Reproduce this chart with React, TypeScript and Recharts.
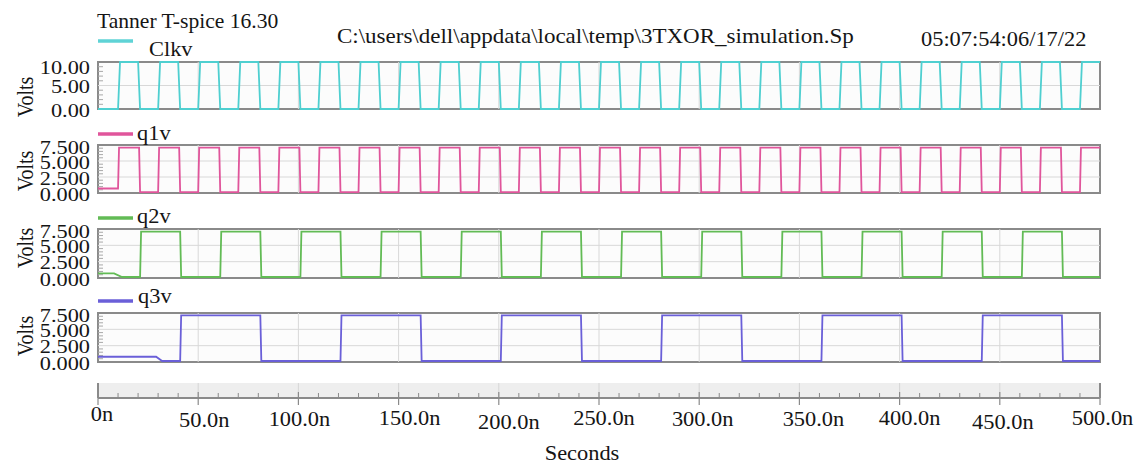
import { LineChart, Line, XAxis, YAxis, ReferenceArea, ReferenceLine } from "recharts"

// edge times in ns
const clkRise = [10, 30, 50, 70, 90, 110, 130, 150, 170, 190, 210, 230, 250, 270, 290, 310, 330, 350, 370, 390, 410, 430, 450, 470, 490]
const clkFall = [20, 40, 60, 80, 100, 120, 140, 160, 180, 200, 220, 240, 260, 280, 300, 320, 340, 360, 380, 400, 420, 440, 460, 480]
const q1Rise = [10, 30, 50, 70, 90, 110, 130, 150, 170, 190, 210, 230, 250, 270, 290, 310, 330, 350, 370, 390, 410, 430, 450, 470, 490]
const q1Fall = [20.5, 40.5, 60.5, 80.5, 100.5, 120.5, 140.5, 160.5, 180.5, 200.5, 220.5, 240.5, 260.5, 280.5, 300.5, 320.5, 340.5, 360.5, 380.5, 400.5, 420.5, 440.5, 460.5, 480.5]
const q2Rise = [21, 61, 101, 141, 181, 221, 261, 301, 341, 381, 421, 461]
const q2Fall = [41, 81, 121, 161, 201, 241, 281, 321, 361, 401, 441, 481]
const q3Rise = [41, 121, 201, 281, 361, 441]
const q3Fall = [81, 161, 241, 321, 401, 481]

// [time, volts] before the first edge
const clkStart = [[0, 0]]
const q1Start = [[0, 0.7]]
const q2Start = [[0, 0.7], [8, 0.7], [12, 0.15]]
const q3Start = [[0, 0.8], [29, 0.8], [32, 0.15]]

const clkTicks = [0, 5, 10]
const clkTickLabels = ["0.00", "5.00", "10.00"]
const clkMinor = [1, 2, 3, 4, 6, 7, 8, 9]
const qTicks = [0, 2.5, 5, 7.5]
const qTickLabels = ["0.000", "2.500", "5.000", "7.500"]
const qMinor = [0.5, 1, 1.5, 2, 3, 3.5, 4, 4.5, 5.5, 6, 6.5, 7]

const xMajor = [0, 50, 100, 150, 200, 250, 300, 350, 400, 450, 500]
const xMajorLabels = ["0n", "50.0n", "100.0n", "150.0n", "200.0n", "250.0n", "300.0n", "350.0n", "400.0n", "450.0n", "500.0n"]
const xMinor = [10, 20, 30, 40, 60, 70, 80, 90, 110, 120, 130, 140, 160, 170, 180, 190, 210, 220, 230, 240, 260, 270, 280, 290, 310, 320, 330, 340, 360, 370, 380, 390, 410, 420, 430, 440, 460, 470, 480, 490]

const FONT = "'Liberation Serif', 'Times New Roman', serif"
const SX = 1.12
const BORDER = "#8a8a8a"
const GRID = "#d8d8d8"

// label nudges [dx, y-centre offset from axis line]
const xLabelNudge = {
  0: [4, 16], 50: [6, 22], 100: [1, 21], 150: [11, 20], 200: [10, 24], 250: [5, 20],
  300: [3.5, 21], 350: [14, 21], 400: [10, 20], 450: [3, 24], 500: [2.5, 20],
}

const buildWave = (start, rises, falls, hi, lo, ramp) => {
  const pts = start.map(([t, v]) => ({ t, v }))
  const edges = [...rises.map((t) => ({ t, v: hi })), ...falls.map((t) => ({ t, v: lo }))].sort((a, b) => a.t - b.t)
  let cur = pts[pts.length - 1].v
  for (const e of edges) {
    pts.push({ t: e.t, v: cur })
    pts.push({ t: e.t + ramp, v: e.v })
    cur = e.v
  }
  pts.push({ t: 500, v: cur })
  return pts
}

const clkData = buildWave(clkStart, clkRise, clkFall, 10, 0, 1)
const q1Data = buildWave(q1Start, q1Rise, q1Fall, 7.1, 0.15, 0.5)
const q2Data = buildWave(q2Start, q2Rise, q2Fall, 7.1, 0.15, 0.5)
const q3Data = buildWave(q3Start, q3Rise, q3Fall, 7.15, 0.15, 0.5)

const Txt = ({ x, y, anchor = "start", rotate = 0, baseline = "auto", size = 20, sx = SX, children }: any) => (
  <text
    transform={`translate(${x},${y}) scale(${sx},1)${rotate ? ` rotate(${rotate})` : ""}`}
    textAnchor={anchor}
    dominantBaseline={baseline}
    fontSize={size}
    fontFamily={FONT}
    fill="#151515"
  >
    {children}
  </text>
)

const Panel = ({ top, height, data, color, domain, ticks, labels, minor }: any) => {
  const pad = 14
  const yTick = ({ x, y, payload }: any) => {
    const i = ticks.indexOf(payload.value)
    const dy = payload.value === domain[1] ? (domain[1] === 10 ? 6 : 3) : 1.5
    return (
      <Txt x={x - 8} y={y + dy} anchor="end" baseline="central" size={18} sx={1.24}>
        {labels[i]}
      </Txt>
    )
  }
  return (
    <div style={{ position: "absolute", left: 0, top: top - pad }}>
      <LineChart width={1138} height={height + pad * 2} data={data} margin={{ top: pad, right: 38, bottom: pad, left: 0 }}>
        <XAxis type="number" dataKey="t" domain={[0, 500]} hide />
        <YAxis
          type="number"
          domain={domain}
          ticks={ticks}
          interval={0}
          width={98}
          axisLine={false}
          tickLine={false}
          tickSize={0}
          tickMargin={0}
          tick={yTick}
        />
        <ReferenceArea x1={0} x2={500} y1={domain[0]} y2={domain[1]} fill="#fcfcfc" fillOpacity={1} stroke="none" />
        {xMajor.slice(1, -1).map((v) => (
          <ReferenceLine key={"x" + v} x={v} stroke={GRID} strokeWidth={1} />
        ))}
        {ticks.slice(1, -1).map((v) => (
          <ReferenceLine key={"y" + v} y={v} stroke={GRID} strokeWidth={1} />
        ))}
        {minor.map((v) => (
          <ReferenceLine key={"m" + v} segment={[{ x: 0, y: v }, { x: 2.5, y: v }]} stroke="#a8a8a8" strokeWidth={1} />
        ))}
        <Line type="linear" dataKey="v" stroke={color} strokeWidth={1.8} dot={false} isAnimationActive={false} />
        <ReferenceArea x1={0} x2={500} y1={domain[0]} y2={domain[1]} fill="none" stroke={BORDER} strokeWidth={2} />
      </LineChart>
    </div>
  )
}

const xTick = ({ x, y, payload }: any) => {
  const i = xMajor.indexOf(payload.value)
  if (i < 0) {
    return <line x1={x} y1={y - 5} x2={x} y2={y} stroke={BORDER} strokeWidth={1} />
  }
  const [dx, dy] = xLabelNudge[payload.value]
  return (
    <g>
      <line x1={x} y1={y - 6} x2={x} y2={y + 7} stroke={BORDER} strokeWidth={1.2} />
      <Txt x={x + dx} y={y + dy} anchor="middle" baseline="central">
        {xMajorLabels[i]}
      </Txt>
    </g>
  )
}

const axisData = xMajor.map((t) => ({ t }))
const allXTicks = [...xMajor, ...xMinor].sort((a, b) => a - b)

const legends = [
  { color: "#5fd3d6", text: "Clkv", lineY: 41, textX: 149, textY: 56 },
  { color: "#e0559b", text: "q1v", lineY: 134, textX: 137, textY: 140 },
  { color: "#62bb55", text: "q2v", lineY: 218, textX: 137, textY: 223 },
  { color: "#6a5fd8", text: "q3v", lineY: 301, textX: 138, textY: 303 },
]
const voltsY = [97, 171, 248, 336]

export default function App() {
  return (
    <div style={{ position: "absolute", left: 0, top: 0, width: 1138, height: 464, background: "#fff", overflow: "hidden" }}>
      <Panel top={62} height={47} data={clkData} color="#4fcfd0" domain={[0, 10]} ticks={clkTicks} labels={clkTickLabels} minor={clkMinor} />
      <Panel top={145} height={48} data={q1Data} color="#e0559b" domain={[0, 7.5]} ticks={qTicks} labels={qTickLabels} minor={qMinor} />
      <Panel top={229} height={49} data={q2Data} color="#62bb55" domain={[0, 7.5]} ticks={qTicks} labels={qTickLabels} minor={qMinor} />
      <Panel top={313} height={49} data={q3Data} color="#6a5fd8" domain={[0, 7.5]} ticks={qTicks} labels={qTickLabels} minor={qMinor} />

      <div style={{ position: "absolute", left: 0, top: 383 }}>
        <LineChart width={1138} height={81} data={axisData} margin={{ top: 0, right: 38, bottom: 0, left: 98 }}>
          <XAxis
            type="number"
            dataKey="t"
            domain={[0, 500]}
            ticks={allXTicks}
            interval={0}
            height={66}
            tickSize={0}
            tickMargin={0}
            tickLine={false}
            axisLine={{ stroke: BORDER, strokeWidth: 2 }}
            tick={xTick}
          />
          <YAxis hide type="number" domain={[0, 1]} allowDataOverflow />
          <ReferenceArea x1={0} x2={500} y1={0} y2={1} fill="#eeeeee" fillOpacity={1} stroke="none" ifOverflow="visible" />
          {xMajor.slice(1, -1).map((v) => (
            <ReferenceLine key={v} x={v} stroke="#d6d6d6" strokeWidth={1} ifOverflow="visible" />
          ))}
          <ReferenceLine x={0} stroke={BORDER} strokeWidth={2} ifOverflow="visible" />
          <ReferenceLine x={500} stroke={BORDER} strokeWidth={2} ifOverflow="visible" />
        </LineChart>
      </div>

      <svg width={1138} height={464} style={{ position: "absolute", left: 0, top: 0, pointerEvents: "none" }}>
        <Txt x={97} y={28} sx={1.08}>Tanner T-spice 16.30</Txt>
        <Txt x={337} y={43} sx={1.15}>C:\users\dell\appdata\local\temp\3TXOR_simulation.Sp</Txt>
        <Txt x={921} y={46}>05:07:54:06/17/22</Txt>
        {legends.map((l) => (
          <g key={l.text}>
            <line x1={98} y1={l.lineY} x2={133} y2={l.lineY} stroke={l.color} strokeWidth={3.5} />
            <Txt x={l.textX} y={l.textY}>{l.text}</Txt>
          </g>
        ))}
        {voltsY.map((y, i) => (
          <Txt key={i} x={26} y={y} anchor="middle" baseline="central" rotate={-90}>
            Volts
          </Txt>
        ))}
        <Txt x={582} y={460} anchor="middle">Seconds</Txt>
      </svg>
    </div>
  )
}
